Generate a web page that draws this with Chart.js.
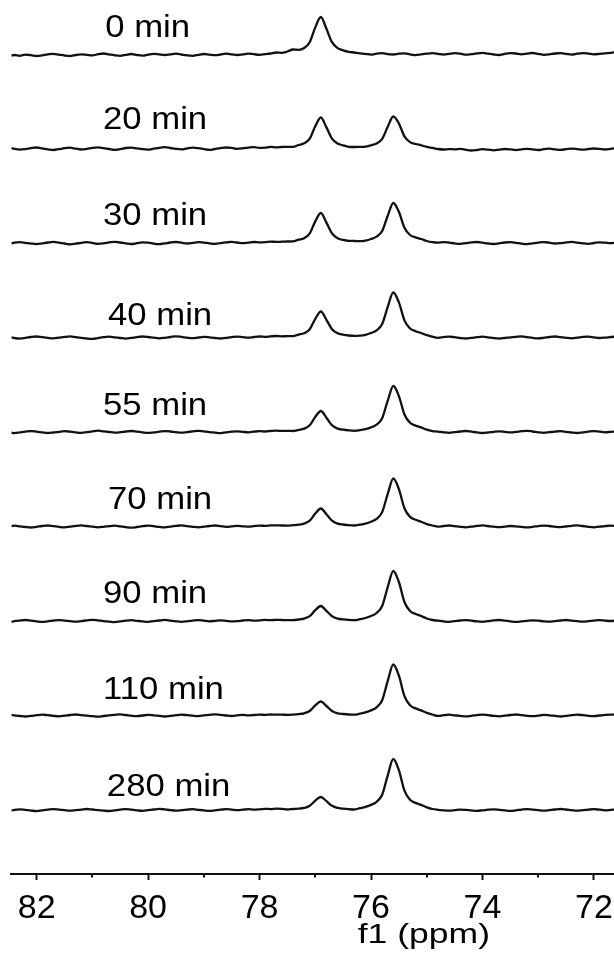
<!DOCTYPE html>
<html>
<head>
<meta charset="utf-8">
<script src="https://cdn.jsdelivr.net/npm/chart.js@4.4.0/dist/chart.umd.min.js"></script>
<style>
  html, body { margin: 0; padding: 0; background: #fff; }
  canvas { display: block; }
</style>
</head>
<body>
<canvas id="nmr" width="614" height="956"></canvas>
<script>
// chemical shift grid (ppm), shared by every spectrum
const ppm = [
  82.45, 82.4, 82.3, 82.2, 82.1, 82.0, 81.9, 81.8, 81.7, 81.6,
  81.5, 81.4, 81.3, 81.2, 81.1, 81.0, 80.9, 80.8, 80.7, 80.6,
  80.5, 80.4, 80.3, 80.2, 80.1, 80.0, 79.9, 79.8, 79.7, 79.6,
  79.5, 79.4, 79.3, 79.2, 79.1, 79.0, 78.9, 78.8, 78.7, 78.6,
  78.5, 78.4, 78.3, 78.2, 78.1, 78.0, 77.9, 77.8, 77.7, 77.6,
  77.5, 77.4, 77.3, 77.2, 77.1, 77.0, 76.9, 76.8, 76.7, 76.6,
  76.5, 76.4, 76.3, 76.2, 76.1, 76.0, 75.9, 75.8, 75.7, 75.6,
  75.5, 75.4, 75.3, 75.2, 75.1, 75.0, 74.9, 74.8, 74.7, 74.6,
  74.5, 74.4, 74.3, 74.2, 74.1, 74.0, 73.9, 73.8, 73.7, 73.6,
  73.5, 73.4, 73.3, 73.2, 73.1, 73.0, 72.9, 72.8, 72.7, 72.6,
  72.5, 72.4, 72.3, 72.2, 72.1, 72.0, 71.9, 71.8, 71.7, 71.6
];

const timeLabels = ["0 min", "20 min", "30 min", "40 min", "55 min", "70 min", "90 min", "110 min", "280 min"];

// intensities (a.u.)
const spec0 = [
  -1.5, -1, -1.8, -0.6, -1.2, -2, -1.3, -0.4, 0.2, -0.6,
  -1.5, -2, -1, -0.3, -0.8, -1.4, -0.2, 0.5, -0.4, -1.3,
  -1.8, -0.8, 0, -1, -1.6, -0.6, 0.2, -0.4, -1, -0.3,
  0.4, -0.5, -1.4, -1.8, -0.8, 0, -0.6, -1.2, -0.5, 0.3,
  -0.3, -1, -0.4, 0.4, -0.2, -0.9, -0.2, 0.5, 1.5, 1.2,
  2.5, 4.5, 4.2, 6.0, 11.8, 26.6, 37, 25.2, 11.8, 5.9,
  3.7, 2.2, 1.5, 0.7, 0.2, -0.6, 0.4, 0.8, -0.2, -0.5,
  0.3, 0.7, -0.3, -1.2, -0.4, 0.3, 0.8, 0.2, -0.6, 0.1,
  0.8, 0.4, -0.7, -0.2, 0.6, 1.1, 0.3, -0.5, -1, 0.2,
  0.9, 0.5, -0.3, 0.4, 1, 0.2, -0.8, -0.4, 0.5, 0.8,
  0.1, -0.6, 0.3, 0.9, 0.4, -0.3, 0.2, 0.7, 1.2, 1.8
];
const spec20 = [
  0.5, -0.3, -1.2, -0.6, 0.4, 1, 0.2, -0.8, -1.5, -0.7,
  0.3, 0.8, -0.2, -1, -0.4, 0.6, 1.2, 0.4, -0.5, -1.3,
  -0.6, 0.5, 0.9, 0.1, -0.7, -1.1, -0.2, 0.7, 1.3, 0.5,
  -0.4, -0.9, 0.1, 0.8, 0.3, -0.6, -1.4, -0.5, 0.4, 1,
  0.6, -0.3, 0.2, 0.9, 1.4, 0.6, 0.9, 1.6, 1.2, 1.5,
  1.7, 1.6, 3.5, 5.2, 9.9, 22.3, 31, 21.1, 9.9, 5.0,
  3.1, 1.7, 1.5, 1.6, 1.9, 3.2, 5.1, 9.6, 21.8, 32,
  25, 12.2, 6.4, 4.5, 3.2, 1.6, 0.6, -0.5, -1, -0.6,
  -0.8, -0.4, -1.2, -2, -1.5, -0.7, -1.1, -1.8, -1.2, -0.5,
  -0.9, -1.6, -0.8, -0.3, -0.9, -1.5, -0.6, -0.2, -0.8, -1.4,
  -0.7, -0.1, -0.6, -1.2, -0.5, 0, -0.4, -1, -0.3, 0.4
];
const spec30 = [
  -0.4, 0.3, 0.9, 0.2, -0.6, -1.1, -0.3, 0.5, 1.1, 0.4,
  -0.5, -1.3, -0.7, 0.2, 0.8, 0.1, -0.8, -0.3, 0.6, 1.2,
  0.5, -0.4, -1, -0.2, 0.7, 0.3, -0.6, -1.2, -0.4, 0.5,
  1, 0.3, -0.5, 0.1, 0.9, 0.4, -0.3, -0.9, -0.1, 0.6,
  1.1, 0.5, -0.2, 0.4, 1, 0.6, 0.8, 1.4, 1.1, 1.3,
  1.5, 1.6, 3.3, 4.8, 9.6, 21.6, 30, 20.4, 9.6, 4.8,
  3.2, 2.2, 2.0, 1.8, 2.4, 4, 6.4, 12, 27.2, 40,
  31.2, 15.2, 8, 5.6, 4, 2, 0.8, 0.3, 0.9, 0.4,
  -0.4, -0.9, -0.2, 0.6, 1, 0.3, -0.5, -1, -0.3, 0.5,
  0.8, 0.2, -0.6, -1.2, -0.4, 0.4, 0.9, 0.3, -0.5, -0.2,
  0.6, 1.1, 0.4, -0.4, -0.8, 0, 0.7, 0.3, -0.2, 0.5
];
const spec40 = [
  0.2, -0.5, -1.1, -0.4, 0.5, 1, 0.3, -0.4, -0.9, -0.2,
  0.6, 1.1, 0.4, -0.3, -1, -1.4, -0.6, 0.3, 0.8, 0.2,
  -0.5, -1.1, -0.4, 0.4, 1, 0.5, -0.2, -0.8, -0.3, 0.5,
  1.2, 0.6, -0.2, -0.7, 0, 0.6, 0.2, -0.5, -1, -0.3,
  0.4, 0.9, 0.3, -0.2, 0.5, 1, 0.7, 1.2, 1.5, 1.2,
  1.3, 1.4, 2.9, 4.2, 8.3, 18.7, 26, 17.7, 8.3, 4.2,
  2.8, 2.0, 1.6, 1.9, 2.7, 4.5, 7.2, 13.5, 30.6, 45,
  35.1, 17.1, 9, 6.3, 4.5, 2.3, 0.9, -0.3, 0.4, 0.9,
  0.3, -0.5, -1, -0.4, 0.3, 0.8, 0.2, -0.6, -1.1, -0.5,
  0.2, 0.7, 1.1, 0.4, -0.4, -0.9, -0.3, 0.5, 1, 0.4,
  -0.3, -0.8, -0.2, 0.6, 0.9, 0.2, -0.5, -0.1, 0.5, 0.9
];
const spec55 = [
  -0.6, -1.2, -0.4, 0.4, 0.9, 0.3, -0.4, -1, -0.5, 0.2,
  0.8, 0.3, -0.3, -0.9, -0.2, 0.6, 1.3, 0.7, 0, -0.6,
  -0.2, 0.5, 1, 0.4, -0.3, -0.9, -0.4, 0.3, 0.9, 0.5,
  -0.2, -0.7, -0.1, 0.6, 1.2, 0.6, -0.1, -0.6, -1.1, -0.4,
  0.3, 0.7, 0.2, -0.3, 0.3, 0.8, 0.5, 1, 1.3, 1.1,
  1.1, 1.0, 2.1, 3.4, 6.7, 15.1, 21, 14.3, 6.7, 3.4,
  2.3, 1.6, 1.2, 1.8, 2.8, 4.6, 7.4, 13.8, 31.3, 46,
  35.9, 17.5, 9.2, 6.4, 4.6, 2.3, 0.9, 0.4, -0.3, -0.8,
  -0.2, 0.5, 1, 0.4, -0.4, -1, -0.5, 0.2, 0.7, 0.2,
  -0.4, 0.1, 0.8, 1.2, 0.5, -0.3, -0.8, -0.2, 0.4, 0.8,
  0.2, -0.5, -1, -0.3, 0.4, 0.9, 0.3, -0.3, 0.2, 0.6
];
const spec70 = [
  0.4, 0.9, 0.2, -0.5, -1, -0.3, 0.5, 1, 0.4, -0.3,
  -0.9, -0.2, 0.6, 1.1, 0.5, -0.2, -0.8, -0.3, 0.4, 0.8,
  0.1, -0.6, -1.2, -0.5, 0.3, 0.9, 0.3, -0.4, -0.9, -0.1,
  0.6, 1.1, 0.4, -0.3, -0.8, -0.2, 0.5, 1, 0.3, -0.4,
  0.1, 0.6, 0.2, -0.2, 0.4, 0.9, 0.6, 1.1, 1.2, 1,
  0.9, 1.3, 1.8, 2.9, 5.8, 13, 18, 12.2, 5.8, 2.9,
  2.0, 1.3, 1.0, 1.8, 2.9, 4.8, 7.7, 14.4, 32.6, 48,
  37.4, 18.2, 9.6, 6.7, 4.8, 2.4, 1.0, -0.2, 0.5, 1,
  0.4, -0.3, -0.8, -0.2, 0.6, 1.1, 0.5, -0.2, -0.7, -0.1,
  0.5, 0.2, -0.4, -0.9, -0.3, 0.4, 0.9, 0.5, -0.2, -0.6,
  0, 0.7, 1.1, 0.5, -0.3, -0.8, -0.2, 0.4, 0.8, 0.5
];
const spec90 = [
  -0.8, -0.2, 0.5, 1, 0.3, -0.4, -0.9, -0.3, 0.4, 0.9,
  0.4, -0.2, -0.7, -0.1, 0.6, 1.2, 0.6, -0.1, -0.6, -1.1,
  -0.4, 0.3, 0.8, 0.2, -0.4, -0.9, -0.2, 0.5, 1.1, 0.4,
  -0.3, -0.8, -0.3, 0.4, 0.9, 0.3, -0.3, 0.2, 0.7, 0.2,
  -0.4, -0.1, 0.5, 0.9, 0.4, 0.6, 1.1, 0.8, 1.2, 1,
  0.8, 0.9, 1.5, 2.4, 4.8, 10.8, 15, 10.2, 4.8, 2.4,
  1.6, 1.1, 0.9, 1.8, 3, 5, 8, 15, 34, 50,
  39, 19, 10, 7, 5, 2.5, 1, 0.3, -0.4, -0.9,
  -0.2, 0.5, 0.9, 0.3, -0.4, -0.8, -0.1, 0.6, 1, 0.4,
  -0.3, -0.9, -0.4, 0.2, 0.7, 0.3, -0.3, -0.7, -0.1, 0.5,
  1, 0.4, -0.2, -0.7, -0.2, 0.4, 0.9, 0.4, 0, 0.5
];
const spec110 = [
  0.6, 0.1, -0.5, -1, -0.4, 0.3, 0.8, 0.3, -0.3, -0.8,
  -0.2, 0.5, 1, 0.4, -0.2, -0.7, -1.2, -0.5, 0.2, 0.7,
  1.1, 0.5, -0.2, -0.6, 0, 0.6, 0.2, -0.4, -1, -0.4,
  0.3, 0.8, 0.4, -0.2, -0.6, 0.1, 0.7, 1.2, 0.6, 0,
  -0.5, 0.1, 0.6, 0.2, 0.5, 0.9, 0.6, 1, 0.8, 0.9,
  0.6, 0.9, 1.4, 2.2, 4.5, 10.1, 14, 9.5, 4.5, 2.2,
  1.5, 1.0, 0.8, 1.8, 3.1, 5.1, 8.2, 15.3, 34.7, 51,
  39.8, 19.4, 10.2, 7.1, 5.1, 2.6, 1.0, -0.4, 0.3, 0.8,
  0.2, -0.4, -0.9, -0.3, 0.4, 0.9, 0.3, -0.4, -0.8, -0.2,
  0.5, 1, 0.4, -0.3, -0.7, -0.1, 0.6, 0.2, -0.4, -1,
  -0.4, 0.3, 0.8, 0.3, -0.3, -0.6, 0, 0.6, 0.9, 0.7
];
const spec280 = [
  -0.5, 0.2, 0.7, 0.1, -0.6, -1.1, -0.4, 0.3, 0.9, 0.4,
  -0.2, -0.7, -0.2, 0.4, 1, 0.5, -0.1, -0.6, -1, -0.3,
  0.4, 0.9, 0.3, -0.3, -0.8, -0.2, 0.5, 1.1, 0.6, -0.1,
  -0.6, -0.2, 0.4, 0.8, 0.2, -0.4, -0.9, -0.3, 0.3, 0.8,
  0.4, -0.1, 0.3, 0.8, 0.4, 0.7, 1.2, 0.9, 1.3, 1.1,
  0.5, 1.0, 1.3, 2.1, 4.2, 9.4, 13, 8.8, 4.2, 2.1,
  1.3, 0.8, 0.5, 1.8, 3.1, 5.1, 8.2, 15.3, 34.7, 51,
  39.8, 19.4, 10.2, 7.1, 5.1, 2.6, 1.0, 0.2, -0.3, -0.6,
  -0.2, 0.4, 0.1, -0.4, -0.8, -0.3, 0.3, 0.7, 0.2, -0.4,
  -0.9, -0.3, 0.4, 0.9, 0.4, -0.2, -0.7, -0.1, 0.5, 1,
  0.5, -0.2, -0.7, -0.2, 0.4, 0.8, 0.3, -0.3, 0.1, 0.5
];

const spectra = [spec0, spec20, spec30, spec40, spec55, spec70, spec90, spec110, spec280];

const majorTicks = [82, 80, 78, 76, 74, 72];
const minorTicks = [81, 79, 77, 75, 73];

const FONT = "'Liberation Sans', Arial, sans-serif";
const INK = '#111';

// time label: left edge (ppm) and lift above the trace baseline (px)
const labelPlace = [
  [80.77, 26], [80.81, 28.5], [80.81, 27], [80.72, 21.5], [80.81, 26],
  [80.72, 26.5], [80.81, 27], [80.81, 25.5], [80.74, 22.5]
];

const scales = {
  x: {
    type: 'linear',
    position: 'bottom',
    reverse: true,
    min: 71.64,
    max: 82.46,
    afterBuildTicks: (s) => { s.ticks = majorTicks.map(v => ({ value: v })); },
    afterFit: (s) => { s.paddingLeft = 0; s.paddingRight = 0; },
    grid: { drawOnChartArea: false, drawTicks: true, tickLength: 6, tickWidth: 2, tickColor: INK },
    border: { display: true, color: INK, width: 2 },
    ticks: {
      color: '#000',
      padding: 8,
      maxRotation: 0,
      autoSkip: false,
      font: { family: FONT, size: 34 },
      callback: (v) => String(v)
    }
  }
};

// one hidden y scale per spectrum, stacked so each trace gets its own band
spectra.forEach((s, i) => {
  scales['y' + i] = {
    type: 'linear',
    axis: 'y',
    position: 'left',
    stack: 'spectra',
    weight: spectra.length - i,
    display: false,
    min: -64,
    max: 30.5
  };
});

const datasets = spectra.map((vals, i) => ({
  label: timeLabels[i],
  data: ppm.map((p, k) => ({ x: p, y: vals[k] })),
  xAxisID: 'x',
  yAxisID: 'y' + i,
  borderColor: INK,
  borderWidth: 2.3,
  pointRadius: 0,
  cubicInterpolationMode: 'monotone',
  fill: false,
  clip: false
}));

const decorations = {
  id: 'decorations',
  afterDraw(chart) {
    const ctx = chart.ctx;
    const x = chart.scales.x;
    ctx.save();

    // short minor ticks at odd ppm
    ctx.strokeStyle = INK;
    ctx.lineWidth = 2;
    minorTicks.forEach(v => {
      const px = Math.round(x.getPixelForValue(v));
      ctx.beginPath();
      ctx.moveTo(px, x.top);
      ctx.lineTo(px, x.top + 3.5);
      ctx.stroke();
    });

    // time labels over each trace
    ctx.fillStyle = '#000';
    ctx.font = '31px ' + FONT;
    ctx.textBaseline = 'middle';
    ctx.textAlign = 'left';
    timeLabels.forEach((t, i) => {
      const y = chart.scales['y' + i];
      const [p, lift] = labelPlace[i];
      ctx.save();
      ctx.translate(x.getPixelForValue(p), y.getPixelForValue(0) - lift);
      ctx.scale(1.12, 1);
      ctx.fillText(t, 0, 0);
      ctx.restore();
    });

    // axis title
    ctx.font = '28px ' + FONT;
    ctx.textBaseline = 'alphabetic';
    ctx.save();
    ctx.translate(x.getPixelForValue(76.24), x.top + 69);
    ctx.scale(1.27, 1);
    ctx.fillText('f1 (ppm)', 0, 0);
    ctx.restore();

    ctx.restore();
  }
};

new Chart(document.getElementById('nmr'), {
  type: 'line',
  data: { datasets },
  options: {
    responsive: false,
    animation: false,
    events: [],
    layout: { padding: { top: 23.5, left: 11, right: 0, bottom: 19.2 } },
    scales,
    plugins: {
      legend: { display: false },
      tooltip: { enabled: false }
    }
  },
  plugins: [decorations]
});
</script>
</body>
</html>
